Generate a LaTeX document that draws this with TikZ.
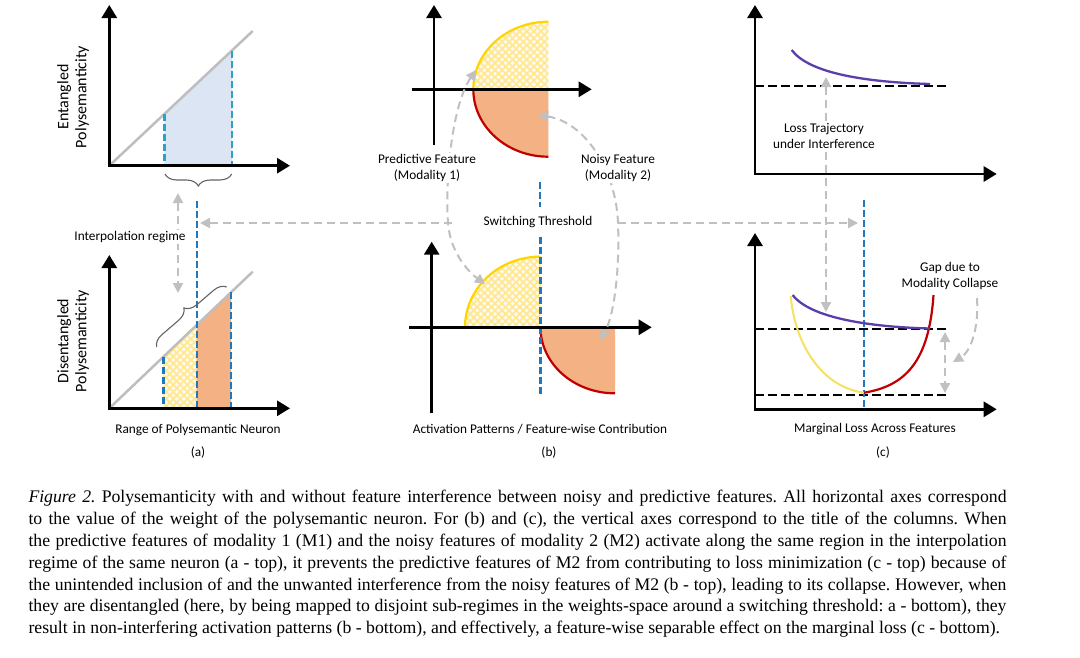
\documentclass[tikz,border=0pt]{standalone}
\usepackage{fontspec}
\setmainfont{Liberation Serif}
\newfontfamily\labfont{Carlito}
\usetikzlibrary{arrows.meta,patterns.meta,decorations.pathreplacing}
\definecolor{garrow}{RGB}{192,192,192}
\definecolor{diagc}{RGB}{190,190,190}
\definecolor{bblue}{RGB}{31,119,190}
\definecolor{tblue}{RGB}{40,165,195}
\definecolor{lblue}{RGB}{220,229,244}
\definecolor{orng}{RGB}{244,177,131}
\definecolor{ypale}{RGB}{255,249,236}
\definecolor{ydot}{RGB}{255,232,140}
\definecolor{yedge}{RGB}{255,212,0}
\definecolor{ycurve}{RGB}{246,226,96}
\definecolor{redc}{RGB}{192,0,0}
\definecolor{purp}{RGB}{92,62,170}
\definecolor{bracec}{RGB}{100,100,100}
\begin{document}
\begin{tikzpicture}[x=1pt,y=-1pt,
  axis/.style={line width=2.8pt,line join=miter,{Triangle[length=13pt,width=15pt]}-{Triangle[length=13pt,width=15pt]}},
  axisone/.style={line width=2.8pt,-{Triangle[length=13pt,width=15pt]}},
  garr/.style={draw=garrow,line width=2pt,dash pattern=on 8pt off 5pt},
  gtip/.style={-{Triangle[length=10pt,width=10pt]}},
  gtips/.style={{Triangle[length=10pt,width=10pt]}-{Triangle[length=10pt,width=10pt]}},
  bdash/.style={draw=bblue,line width=2.4pt,dash pattern=on 7pt off 3pt},
  tdash/.style={draw=tblue,line width=2.4pt,dash pattern=on 7pt off 3pt},
  kdash/.style={line width=2.3pt,dash pattern=on 8.5pt off 4.5pt},
  diag/.style={draw=diagc,line width=2.5pt},
  lbl/.style={font=\labfont\fontsize{13.3}{16}\selectfont,inner sep=1pt,align=center},
  wlbl/.style={lbl,fill=white},
  ylab/.style={font=\labfont\fontsize{16}{18}\selectfont,inner sep=1pt,align=center,rotate=90},
  brc/.style={draw=bracec,line width=1.1pt,decorate,decoration={brace,amplitude=12pt}},
  hatchA/.style={pattern={Lines[angle=45,distance=5pt,line width=1.6pt]},pattern color=ydot},
  hatchB/.style={pattern={Lines[angle=-45,distance=5pt,line width=1.6pt]},pattern color=ydot},
]
\fill[white] (0,0) rectangle (1080,657);
\useasboundingbox (0,0) rectangle (1080,657);

% ---------- panel (a) top ----------
\coordinate (aO1) at (109.3,165.7);
\fill[lblue] (164.3,165.7) -- (164.3,114.1) -- (232,50.5) -- (232,165.7) -- cycle;
\draw[diag] (aO1) -- (252.7,31);
\draw[tdash] (164.3,114.1) -- (164.3,165.7);
\draw[tdash] (232,50.5) -- (232,165.7);
\draw[axis] (109.3,5) -- (aO1) -- (290,165.7);
\draw[brc] (231.7,174) -- (165,174);
\node[ylab] (ylA1) at (73,97) {Entangled\\Polysemanticity};

% ---------- panel (a) bottom ----------
\coordinate (aO2) at (109.3,408.3);
\fill[ypale] (163.3,408.3) -- (163.3,356.9) -- (196.7,325) -- (196.7,408.3) -- cycle;
\fill[hatchA] (163.3,408.3) -- (163.3,356.9) -- (196.7,325) -- (196.7,408.3) -- cycle;
\fill[hatchB] (163.3,408.3) -- (163.3,356.9) -- (196.7,325) -- (196.7,408.3) -- cycle;
\fill[orng] (196.7,408.3) -- (196.7,325) -- (231,292.4) -- (231,408.3) -- cycle;
\draw[diag] (aO2) -- (252.7,271.7);
\draw[bdash] (163.3,356.9) -- (163.3,408.3);
\draw[bdash] (196.7,201) -- (196.7,408.3);
\draw[bdash] (231,292.4) -- (231,408.3);
\draw[axis] (109.3,255) -- (aO2) -- (290,408.3);
\draw[brc] (156.7,347) -- (226.7,287);
\node[ylab] (ylA2) at (73,341) {Disentangled\\Polysemanticity};

% ---------- panel (b) top ----------
\fill[ypale] (548.3,89.3) -- (473.3,89.3) arc[start angle=180,end angle=270,x radius=75,y radius=67.6] -- cycle;
\fill[hatchA] (548.3,89.3) -- (473.3,89.3) arc[start angle=180,end angle=270,x radius=75,y radius=67.6] -- cycle;
\fill[hatchB] (548.3,89.3) -- (473.3,89.3) arc[start angle=180,end angle=270,x radius=75,y radius=67.6] -- cycle;
\draw[yedge,line width=2.2pt] (473.3,89.3) arc[start angle=180,end angle=270,x radius=75,y radius=67.6];
\fill[orng] (548.3,89.3) -- (473.3,89.3) arc[start angle=180,end angle=90,x radius=75,y radius=67.4] -- cycle;
\draw[redc,line width=2.2pt] (473.3,89.3) arc[start angle=180,end angle=90,x radius=75,y radius=67.4];
\draw[axisone] (434,145) -- (434,5);
\draw[axisone] (411.7,89.3) -- (591.7,89.3);

% ---------- panel (b) bottom ----------
\fill[ypale] (540.5,327.3) -- (465,327.3) arc[start angle=180,end angle=270,x radius=75.5,y radius=70.7] -- cycle;
\fill[hatchA] (540.5,327.3) -- (465,327.3) arc[start angle=180,end angle=270,x radius=75.5,y radius=70.7] -- cycle;
\fill[hatchB] (540.5,327.3) -- (465,327.3) arc[start angle=180,end angle=270,x radius=75.5,y radius=70.7] -- cycle;
\draw[yedge,line width=2.2pt] (465,327.3) arc[start angle=180,end angle=270,x radius=75.5,y radius=70.7];
\fill[orng] (615,327.3) -- (540.5,327.3) arc[start angle=180,end angle=90,x radius=74.5,y radius=66] -- cycle;
\draw[redc,line width=2.2pt] (540.5,327.3) arc[start angle=180,end angle=90,x radius=74.5,y radius=66];
\draw[bdash] (540,181.7) -- (540,207);
\draw[bdash] (540.5,236.7) -- (540.5,396.7);
\draw[axisone] (431.7,413.3) -- (431.7,241.7);
\draw[axisone] (409.3,327.3) -- (651.7,327.3);

% ---------- panel (c) top ----------
\draw[kdash] (755,86) -- (950,86);
\draw[purp,line width=2.3pt] (791.7,50) .. controls (808,72) and (860,82) .. (930,84);
\draw[axis] (755,5) -- (755,174) -- (996.7,174);

% ---------- panel (c) bottom ----------
\draw[kdash] (755,329) -- (950,329);
\draw[kdash] (755,395) -- (950,395);
\draw[bdash] (864,200) -- (864,409.3);
\draw[ycurve,line width=2pt] (790.7,296) .. controls (795,345) and (822,387) .. (864,392.7);
\draw[redc,line width=2.2pt] (864,392.7) .. controls (905,386) and (929,362) .. (933.5,295);
\draw[purp,line width=2.3pt] (792.7,295) .. controls (810,318) and (870,327) .. (930,328.5);
\draw[axis] (755,233) -- (755,409.3) -- (996.7,409.3);

% ---------- grey connectors ----------
\coordinate (lcTop) at (476,70);
\coordinate (lcMid) at (448,223);
\coordinate (lcBot) at (485,284);
\coordinate (rcTop) at (538,115);
\coordinate (rcMid) at (618,223);
\coordinate (rcBot) at (600,340);
\coordinate (aThr) at (200,223);
\coordinate (cThr) at (858,223);
\draw[garr,gtips] (lcTop) .. controls (452,105) and (445,180) .. (lcMid) .. controls (450,250) and (466,270) .. (lcBot);
\draw[garr,gtips] (rcTop) .. controls (585,122) and (616,170) .. (rcMid) .. controls (620,275) and (613,318) .. (rcBot);
\draw[garr,gtip] (452,223) -- (aThr);
\draw[garr,gtip] (rcMid) -- (cThr);
\draw[garr,gtips] (178,193) -- (178,293);
\draw[garr,gtips] (826,77) -- (826,312);
\draw[garr,gtips] (945,332) -- (945,393);
\coordinate (gapS) at (977,298);
\coordinate (gapE) at (953,362);
\draw[garr,gtip] (gapS) .. controls (979,330) and (970,352) .. (gapE);

% ---------- labels ----------
\node[wlbl] (interp) at (130,237) {Interpolation regime};
\node[wlbl] (pred) at (427,168) {Predictive Feature\\(Modality 1)};
\node[wlbl] (noisy) at (618,168) {Noisy Feature\\(Modality 2)};
\node[wlbl,inner ysep=3pt] (switch) at (538,222) {Switching Threshold};
\node[wlbl] (losstr) at (824,136) {Loss Trajectory\\under Interference};
\node[lbl] (gap) at (950,276) {Gap due to\\Modality Collapse};
\node[lbl] (xa) at (198,430) {Range of Polysemantic Neuron};
\node[lbl] (xb) at (540,429) {Activation Patterns / Feature-wise Contribution};
\node[lbl] (xc) at (875,429) {Marginal Loss Across Features};
\node[lbl] (la) at (198,453) {(a)};
\node[lbl] (lb) at (549,453) {(b)};
\node[lbl] (lc) at (883,453) {(c)};

% ---------- caption ----------
\node[anchor=north west,inner sep=0pt,align=left,font=\frenchspacing\fontsize{17.7}{21.8}\selectfont] (cap) at (28.3,490.3) {%
\makebox[978pt][s]{\textit{Figure 2.} Polysemanticity with and without feature interference between noisy and predictive features. All horizontal axes correspond}\\
\makebox[978pt][s]{to the value of the weight of the polysemantic neuron. For (b) and (c), the vertical axes correspond to the title of the columns. When}\\
\makebox[978pt][s]{the predictive features of modality 1 (M1) and the noisy features of modality 2 (M2) activate along the same region in the interpolation}\\
\makebox[978pt][s]{regime of the same neuron (a - top), it prevents the predictive features of M2 from contributing to loss minimization (c - top) because of}\\
\makebox[978pt][s]{the unintended inclusion of and the unwanted interference from the noisy features of M2 (b - top), leading to its collapse. However, when}\\
\makebox[978pt][s]{they are disentangled (here, by being mapped to disjoint sub-regimes in the weights-space around a switching threshold: a - bottom), they}\\
result in non-interfering activation patterns (b - bottom), and effectively, a feature-wise separable effect on the marginal loss (c - bottom).};
\end{tikzpicture}
\end{document}
